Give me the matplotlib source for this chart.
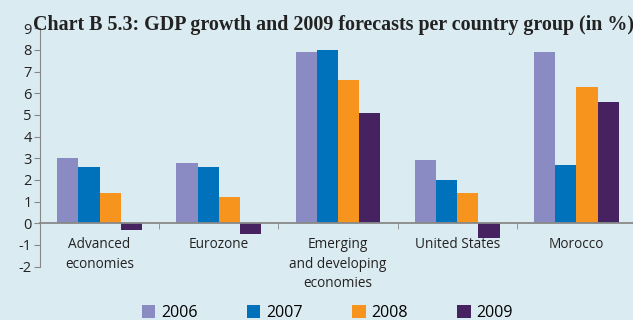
import matplotlib
matplotlib.use("Agg")
import matplotlib.pyplot as plt
import numpy as np
from matplotlib.patches import Patch

categories = ["Advanced\neconomies", "Eurozone", "Emerging\nand developing\neconomies",
              "United States", "Morocco"]
years = ["2006", "2007", "2008", "2009"]
v2006 = [3.0, 2.8, 7.9, 2.9, 7.9]
v2007 = [2.6, 2.6, 8.0, 2.0, 2.7]
v2008 = [1.4, 1.2, 6.6, 1.4, 6.3]
v2009 = [-0.3, -0.5, 5.1, -0.7, 5.6]
series = [v2006, v2007, v2008, v2009]
colors = ["#8B8BC4", "#0071BB", "#F7941E", "#472260"]
yticks = [-2, -1, 0, 1, 2, 3, 4, 5, 6, 7, 8, 9]

bg = "#DBEBF2"
fig = plt.figure(figsize=(6.33, 3.2), dpi=100, facecolor=bg)
ax = fig.add_axes([0.0632, 0.1667, 0.9415, 0.745], facecolor=bg)

x = np.arange(len(categories))
w = 0.178
for i, (vals, c) in enumerate(zip(series, colors)):
    ax.bar(x + (i - 1.5) * w, vals, w, color=c, label=years[i], zorder=2)

ax.set_xlim(-0.5, len(categories) - 0.5)
ax.set_ylim(-2, 9)
ax.set_yticks(yticks)
ax.set_yticklabels([str(t) for t in yticks], fontsize=10.5, color="#222222", family="Open Sans")

for s in ["top", "right"]:
    ax.spines[s].set_visible(False)
ax.spines["left"].set_color("#888888")
ax.spines["bottom"].set_position(("data", 0))
ax.spines["bottom"].set_color("#888888")
ax.spines["bottom"].set_linewidth(1.3)
ax.spines["bottom"].set_zorder(3)

ax.set_xticks(x)
ax.set_xticklabels(categories, fontsize=9.8, color="#222222", family="Open Sans", linespacing=1.4)
ax.set_xticks(np.arange(len(categories) + 1) - 0.5, minor=True)
ax.tick_params(axis="x", which="major", length=0, pad=10)
ax.tick_params(axis="x", which="minor", length=4, color="#888888", direction="out")
ax.tick_params(axis="y", length=4, color="#888888", pad=2)

fig.text(0.052, 0.905, "Chart B 5.3: GDP growth and 2009 forecasts per country group (in %)",
         fontsize=14.4, fontweight="bold", family="Liberation Serif", color="#222222",
         ha="left", va="baseline")

handles = [Patch(facecolor=c, edgecolor="none") for c in colors]
fig.legend(handles, years, loc="lower center", bbox_to_anchor=(0.517, -0.048), ncol=4,
           frameon=False, prop={"family": "Open Sans", "size": 11.5},
           handlelength=0.85, handleheight=0.85, handletextpad=0.35, columnspacing=3.1)

fig.savefig("out.png", dpi=100, facecolor=bg)
